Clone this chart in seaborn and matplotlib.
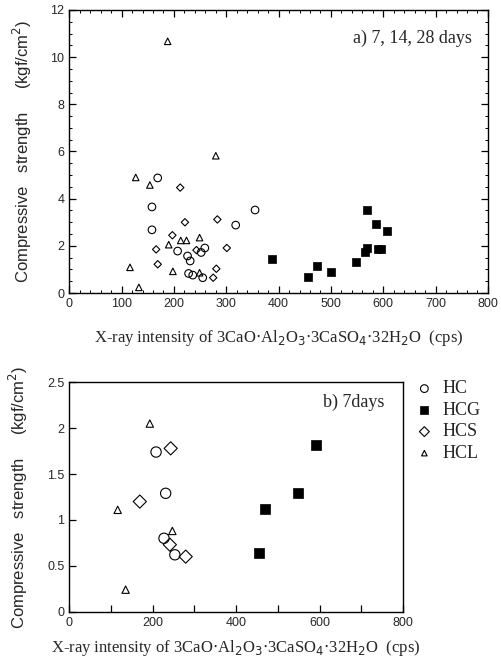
import matplotlib
matplotlib.use("Agg")
import matplotlib.pyplot as plt
import seaborn as sns
import numpy as np
from matplotlib.ticker import MultipleLocator

sns.set_theme(style="ticks")
plt.rcParams['font.family'] = ['Liberation Sans', 'DejaVu Sans']

# ---- panel a) 7, 14, 28 days ----
a_hc_x = [169, 158, 158, 207, 226, 231, 228, 236, 255, 252, 259, 318, 355]
a_hc_y = [4.88, 3.65, 2.68, 1.78, 1.57, 1.36, 0.83, 0.76, 0.65, 1.72, 1.91, 2.88, 3.52]
a_hcg_x = [388, 457, 474, 501, 547, 565, 568, 569, 587, 589, 596, 608]
a_hcg_y = [1.43, 0.67, 1.15, 0.90, 1.30, 1.75, 1.89, 3.52, 2.94, 1.85, 1.85, 2.62]
a_hcs_x = [212, 221, 197, 166, 169, 243, 283, 301, 281, 275]
a_hcs_y = [4.47, 3.00, 2.45, 1.85, 1.22, 1.82, 3.12, 1.91, 1.03, 0.65]
a_hcl_x = [188, 127, 154, 280, 116, 133, 190, 198, 213, 224, 249, 249]
a_hcl_y = [10.67, 4.90, 4.58, 5.82, 1.09, 0.24, 2.05, 0.92, 2.23, 2.23, 2.35, 0.86]

# ---- panel b) 7 days ----
b_hc_x = [208, 231, 227, 253]
b_hc_y = [1.74, 1.29, 0.80, 0.62]
b_hcg_x = [592, 470, 548, 454]
b_hcg_y = [1.82, 1.12, 1.29, 0.64]
b_hcs_x = [243, 169, 241, 279]
b_hcs_y = [1.78, 1.20, 0.73, 0.60]
b_hcl_x = [193, 116, 247, 135]
b_hcl_y = [2.05, 1.11, 0.88, 0.24]

series_names = ["HC", "HCG", "HCS", "HCL"]

fig = plt.figure(figsize=(5.02, 6.63), dpi=100)
ax1 = fig.add_axes([0.138, 0.558, 0.834, 0.427])
ax2 = fig.add_axes([0.138, 0.0774, 0.665, 0.346])

def draw(ax, data, sizes):
    (hx, hy), (gx, gy), (sx, sy), (lx, ly) = data
    sns.scatterplot(x=hx, y=hy, marker='o', s=sizes[0], facecolor='none',
                    edgecolor='black', linewidth=0.8, ax=ax, label=series_names[0])
    sns.scatterplot(x=gx, y=gy, marker='s', s=sizes[1], color='black',
                    edgecolor='black', linewidth=0.5, ax=ax, label=series_names[1])
    sns.scatterplot(x=sx, y=sy, marker='D', s=sizes[2], facecolor='none',
                    edgecolor='black', linewidth=0.8, ax=ax, label=series_names[2])
    sns.scatterplot(x=lx, y=ly, marker='^', s=sizes[3], facecolor='none',
                    edgecolor='black', linewidth=0.8, ax=ax, label=series_names[3])

draw(ax1, [(a_hc_x, a_hc_y), (a_hcg_x, a_hcg_y), (a_hcs_x, a_hcs_y), (a_hcl_x, a_hcl_y)],
     [30, 40, 14, 22])
draw(ax2, [(b_hc_x, b_hc_y), (b_hcg_x, b_hcg_y), (b_hcs_x, b_hcs_y), (b_hcl_x, b_hcl_y)],
     [55, 55, 45, 28])

serif = ['Liberation Serif', 'DejaVu Serif']
xlab = r"X-ray intensity of 3CaO$\cdot$Al$_2$O$_3$$\cdot$3CaSO$_4$$\cdot$32H$_2$O  (cps)"
ylab = "Compressive   strength     (kgf/cm$^2$)"
plt.rcParams['mathtext.fontset'] = 'custom'
plt.rcParams['mathtext.rm'] = 'Liberation Serif'
plt.rcParams['mathtext.it'] = 'Liberation Serif'

# axis a
ax1.set_xlim(0, 800)
ax1.set_ylim(0, 12)
ax1.xaxis.set_major_locator(MultipleLocator(100))
ax1.xaxis.set_minor_locator(MultipleLocator(20))
ax1.yaxis.set_major_locator(MultipleLocator(2))
ax1.yaxis.set_minor_locator(MultipleLocator(0.5))
ax1.tick_params(which='both', direction='in', top=True, right=True, labelsize=9, color='black')
ax1.tick_params(which='major', length=5, width=0.9)
ax1.tick_params(which='minor', length=2.5, width=0.7)
ax1.legend_.remove()
ax1.text(0.962, 0.90, "a) 7, 14, 28 days", transform=ax1.transAxes, ha='right', va='center',
         fontsize=13, family=serif)
ax1.set_xlabel(xlab, family=serif, fontsize=12, labelpad=13)
ax1.set_ylabel(ylab, fontsize=12, labelpad=12, fontweight='medium')

# axis b
ax2.set_xlim(0, 800)
ax2.set_ylim(0, 2.5)
ax2.xaxis.set_major_locator(MultipleLocator(200))
ax2.xaxis.set_minor_locator(MultipleLocator(100))
ax2.set_yticks([0, 0.5, 1, 1.5, 2, 2.5])
ax2.set_yticklabels(['0', '0.5', '1', '1.5', '2', '2.5'])
ax2.tick_params(which='both', direction='in', labelsize=9, color='black')
ax2.tick_params(which='major', length=5, width=0.9)
ax2.tick_params(which='minor', length=5, width=0.9)
ax2.text(0.945, 0.914, "b) 7days", transform=ax2.transAxes, ha='right', va='center',
         fontsize=13, family=serif)
ax2.set_xlabel(xlab, family=serif, fontsize=12, labelpad=7)
ax2.set_ylabel(ylab, fontsize=12, labelpad=12, fontweight='medium')
ax2.legend(loc='upper left', bbox_to_anchor=(1.015, 1.04), frameon=False,
           prop={'family': serif, 'size': 13}, handletextpad=0.5, labelspacing=0.25,
           borderaxespad=0, handlelength=1.0, markerscale=0.75)

for ax in (ax1, ax2):
    for sp in ax.spines.values():
        sp.set_color('black')
        sp.set_linewidth(1.0)

fig.savefig("out.png", dpi=100)
